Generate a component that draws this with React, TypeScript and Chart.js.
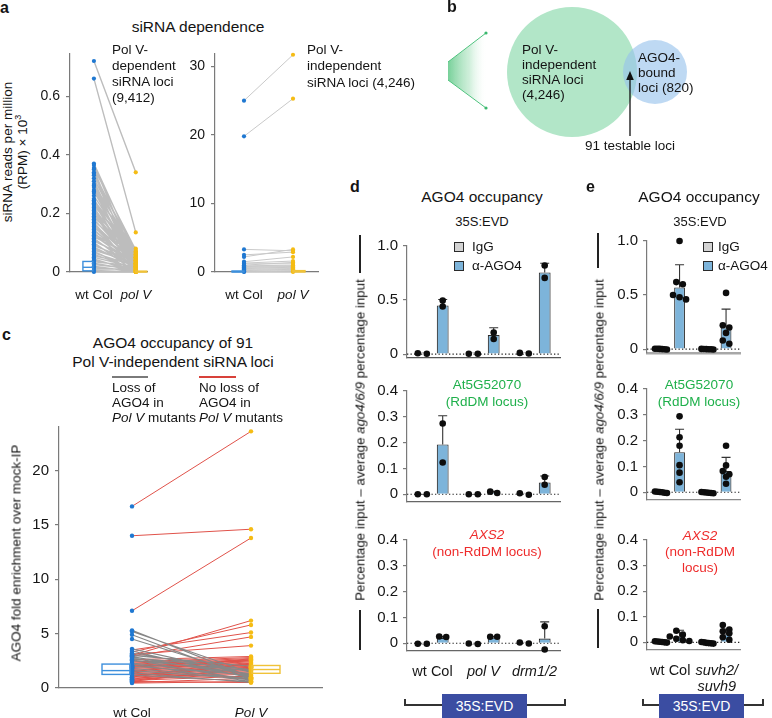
import React, { useEffect, useRef } from "react";
import { Chart, registerables } from "chart.js";

Chart.register(...registerables);

const FONT = '"Liberation Sans", Arial, Helvetica, sans-serif';

// ===================== DATA =====================
// Panel a (left): Pol V-dependent siRNA loci, siRNA RPM x10^3 (paired wt Col -> pol V)
const aGenotypes = ["wt Col", "pol V"];
const aDepWt = [0.72, 0.66, 0.37, 0.365, 0.355, 0.35, 0.34, 0.335, 0.33, 0.32, 0.31, 0.3, 0.295, 0.29, 0.28, 0.275, 0.27, 0.26, 0.25, 0.245, 0.24, 0.235, 0.23, 0.225, 0.22, 0.215, 0.21, 0.205, 0.2, 0.195, 0.19, 0.185, 0.18, 0.175, 0.17, 0.165, 0.16, 0.155, 0.15, 0.145, 0.14, 0.135, 0.13, 0.125, 0.12, 0.115, 0.11, 0.105, 0.1, 0.095, 0.09, 0.085, 0.08, 0.075, 0.07, 0.065, 0.06, 0.055, 0.05, 0.045, 0.04, 0.035, 0.03, 0.025, 0.02, 0.015, 0.01, 0.005, 0];
const aDepPolV = [0.34, 0.135, 0.06, 0.03, 0.075, 0.0, 0.05, 0.02, 0.07, 0.04, 0.01, 0.065, 0.035, 0.0, 0.055, 0.025, 0.08, 0.045, 0.015, 0.06, 0.03, 0.005, 0.05, 0.07, 0.02, 0.04, 0.0, 0.055, 0.035, 0.01, 0.045, 0.065, 0.025, 0.05, 0.0, 0.03, 0.04, 0.015, 0.06, 0.02, 0.035, 0.005, 0.045, 0.025, 0.05, 0.01, 0.03, 0.04, 0.0, 0.02, 0.035, 0.015, 0.025, 0.03, 0.005, 0.02, 0.01, 0.025, 0.015, 0.0, 0.01, 0.02, 0.005, 0.01, 0.0, 0.005, 0.01, 0.0, 0];
const aDepWtBox = [0.004, 0.016, 0.036]; // q1, median, q3
const aDepPolVBox = [0.0, 0.001, 0.003];
const aDepTicks = [0, 0.2, 0.4, 0.6];

// Panel a (right): Pol V-independent siRNA loci
const aIndWt = [25.0, 19.8, 3.3, 2.5, 2.2, 1.5, 1.3, 1.2, 1.0, 0.9, 0.8, 0.7, 0.6, 0.5, 0.4, 0.3, 0.2, 0.1, 0.05, 0];
const aIndPolV = [31.7, 25.3, 3.1, 2.9, 3.3, 2.2, 1.6, 1.2, 1.4, 1.0, 0.9, 0.8, 0.6, 0.7, 0.5, 0.3, 0.4, 0.2, 0.1, 0];
const aIndWtBox = [0.0, 0.05, 0.15];
const aIndPolVBox = [0.0, 0.08, 0.2];
const aIndTicks = [0, 10, 20, 30];

// Panel b: Venn
const vennLabels = ["Pol V-independent siRNA loci", "AGO4-bound loci"];
const vennCounts = [4246, 820];
const vennOverlap = 91;

// Panel c: AGO4 fold enrichment over mock-IP (91 Pol V-independent loci)
const cGenotypes = ["wt Col", "Pol V"];
const cNoLossWt = [16.7, 14.0, 7.1, 3.0, 3.3, 3.5, 2.9, 3.1, 2.4, 2.3, 2.2, 2.1, 2.0, 1.9, 1.8, 1.7, 1.6, 1.5, 1.4, 1.3, 1.2, 1.1, 1.0, 0.9, 0.8, 0.7, 0.5, 0.45, 1.0, 0.8, 1.5, 2.6, 0.6, 2.5, 1.9, 1.1, 0.7, 0.6, 1.3, 2.1];
const cNoLossPolV = [23.6, 14.6, 13.8, 6.2, 5.8, 5.1, 4.7, 3.9, 2.8, 2.7, 2.6, 2.5, 2.5, 2.4, 2.3, 2.2, 2.1, 2.0, 1.9, 1.8, 1.7, 1.6, 1.5, 1.4, 1.3, 1.1, 0.9, 0.6, 2.6, 2.3, 2.7, 2.9, 1.9, 2.0, 2.6, 2.2, 1.8, 0.5, 1.0, 1.9];
const cLossWt = [5.3, 5.2, 4.9, 4.5, 3.6, 3.4, 3.2, 2.9, 2.7, 2.6, 2.5, 2.3, 2.2, 2.0, 1.8, 1.6, 1.4, 1.2, 3.0, 2.8];
const cLossPolV = [1.0, 1.4, 0.8, 1.1, 1.2, 0.9, 1.5, 1.0, 1.3, 0.7, 1.6, 1.1, 0.6, 1.2, 0.9, 0.8, 0.5, 0.6, 2.0, 1.7];
const cWtBox = [1.25, 1.6, 2.2];
const cPolVBox = [1.35, 1.7, 2.07];
const cTicks = [0, 5, 10, 15, 20];

// Panel d: AGO4 occupancy (percentage input - average ago4/6/9)
const dGroups = ["wt Col", "pol V", "drm1/2"];
const dEvdIgG = [0.006, 0.003, 0.008];
const dEvdIgGReps = [[0.004, 0.008], [0.003, 0.003], [0.005, 0.011]];
const dEvdAgo = [0.45, 0.176, 0.756];
const dEvdAgoReps = [[0.495, 0.44], [0.2, 0.14], [0.82, 0.705]];
const dEvdAgoErr = [0.505, 0.244, 0.84];
const dRddmIgG = [0.0, 0.0, 0.001];
const dRddmIgGReps = [[0.0, 0.0], [0.0, 0.0], [-0.002, 0.004]];
const dRddmAgo = [0.193, 0.008, 0.046];
const dRddmAgoReps = [[0.274, 0.123], [0.005, 0.01], [0.067, 0.037]];
const dRddmAgoErr = [0.304, 0.011, 0.071];
const dAxsIgG = [-0.002, -0.002, 0.001];
const dAxsIgGReps = [[-0.002, -0.002], [-0.003, -0.001], [-0.001, 0.003]];
const dAxsAgo = [0.021, 0.022, 0.018];
const dAxsAgoReps = [[0.026, 0.024], [0.025, 0.025], [0.066, -0.024]];
const dAxsAgoErr = [0.026, 0.026, 0.083];

// Panel e
const eGroups = ["wt Col", ["suvh2/", "suvh9"]];
const eEvdIgG = [0.0, -0.002];
const eEvdIgGReps = [[0.004, -0.003, 0.002, 0.0, -0.002, 0.003], [0.0, -0.003, 0.002, -0.001, 0.001, -0.002]];
const eEvdAgo = [0.57, 0.2];
const eEvdAgoReps = [[1.0, 0.62, 0.6, 0.5, 0.48, 0.46], [0.52, 0.22, 0.2, 0.15, 0.08, 0.05]];
const eEvdAgoErr = [0.78, 0.37];
const eRddmIgG = [0.0, -0.002];
const eRddmIgGReps = [[0.003, -0.002, 0.001, 0.0, -0.003, 0.002], [-0.001, -0.003, 0.0, -0.002, 0.001, -0.004]];
const eRddmAgo = [0.155, 0.082];
const eRddmAgoReps = [[0.294, 0.213, 0.18, 0.105, 0.076, 0.039], [0.18, 0.104, 0.082, 0.07, 0.06, 0.033]];
const eRddmAgoErr = [0.244, 0.135];
const eAxsIgG = [0.001, -0.002];
const eAxsIgGReps = [[0.004, 0.002, 0.0, 0.003, -0.001, 0.001], [-0.002, -0.004, 0.0, -0.003, 0.001, -0.005]];
const eAxsAgo = [0.022, 0.032];
const eAxsAgoReps = [[0.045, 0.03, 0.023, 0.014, 0.008, 0.005], [0.068, 0.05, 0.043, 0.035, 0.02, 0.01]];
const eAxsAgoErr = [0.047, 0.052];

const evdTicks = [0, 0.5, 1.0];
const locusTicks = [0, 0.1, 0.2, 0.3, 0.4];

// ===================== STYLE =====================
const AXIS = "#7a7a7a";
const BLUE = "#1f78d1";
const YELLOW = "#f5bc14";
const BOX_BLUE = "#3d8fdc";
const BOX_YELLOW = "#f0c238";
const GRAY_LINE = "#bdbdbd";
const RED_LINE = "#e0524a";
const LOSS_GRAY = "#878787";
const BAR_BLUE = "#7db4da";
const BAR_GRAY = "#d3d3d3";
const GREEN_TXT = "#1fb04b";
const RED_TXT = "#ee2b2b";
const EVD_BLUE = "#3b4da2";

type Frame = { plotL: number; plotT: number; plotW: number; plotH: number; yw: number; xh: number; padT: number; padR: number };

function frameBox(f: Frame) {
  return { x: f.plotL - f.yw, y: f.plotT - f.padT, w: f.yw + f.plotW + f.padR, h: f.padT + f.plotH + f.xh };
}

function baseOptions(f: Frame) {
  return {
    responsive: false,
    animation: false,
    devicePixelRatio: 1,
    events: [],
    layout: { autoPadding: false, padding: { top: f.padT, right: f.padR, left: 0, bottom: 0 } },
    plugins: { legend: { display: false }, tooltip: { enabled: false } },
  };
}

function yAxis(f: Frame, min: number, max: number, ticks: number[], fmt: (v: number) => string, size: number, pad: number) {
  return {
    type: "linear",
    position: "left",
    min,
    max,
    afterFit: (s: any) => { s.width = f.yw; },
    afterBuildTicks: (s: any) => { s.ticks = ticks.map((v) => ({ value: v })); },
    grid: { display: true, drawOnChartArea: false, drawTicks: true, tickLength: 4, color: AXIS, tickColor: AXIS, lineWidth: 1.2 },
    border: { display: true, color: AXIS, width: 1.2 },
    ticks: { callback: (v: number) => fmt(v), font: { size, family: FONT }, color: "#151515", padding: pad },
  };
}

function pairedX(f: Frame, min: number, max: number, names: string[], size: number, pad: number) {
  return {
    type: "linear",
    position: "bottom",
    min,
    max,
    afterFit: (s: any) => { s.height = f.xh; },
    afterBuildTicks: (s: any) => { s.ticks = [{ value: 0 }, { value: 1 }]; },
    grid: { display: false },
    border: { display: true, color: AXIS, width: 1.2 },
    ticks: {
      callback: (v: number) => names[v] ?? "",
      font: (ctx: any) => ({ size, family: FONT, style: ctx.index === 1 ? "italic" : "normal" }),
      color: "#151515",
      padding: pad,
      maxRotation: 0,
      autoSkip: false,
    },
  };
}

function pairLines(wt: number[], pv: number[], color: string, width: number) {
  const pts: any[] = [];
  const n = Math.min(wt.length, pv.length);
  for (let i = 0; i < n; i++) {
    pts.push({ x: 0, y: wt[i] }, { x: 1, y: pv[i] }, { x: 0.5, y: null });
  }
  return { type: "scatter", data: pts, showLine: true, spanGaps: false, borderColor: color, borderWidth: width, pointRadius: 0, fill: false, clip: false, order: 5 };
}

function dots(vals: number[], at: number, color: string, r: number) {
  return { type: "scatter", data: vals.map((v) => ({ x: at, y: v })), pointRadius: r, pointHoverRadius: r, backgroundColor: color, borderWidth: 0, clip: false, order: 1 };
}

type BoxSpec = { at: number; stats: number[]; side: number; gap: number; w: number; color: string };
function boxPlugin(specs: BoxSpec[]) {
  return {
    id: "boxes",
    afterDatasetsDraw(chart: any) {
      const { ctx } = chart;
      const x = chart.scales.x, y = chart.scales.y;
      specs.forEach((s) => {
        const xc = x.getPixelForValue(s.at);
        const x0 = s.side < 0 ? xc - s.gap - s.w : xc + s.gap;
        const [q1, med, q3] = s.stats;
        const y1 = y.getPixelForValue(q1), ym = y.getPixelForValue(med), y3 = y.getPixelForValue(q3);
        ctx.save();
        ctx.strokeStyle = s.color;
        ctx.lineWidth = 1.4;
        ctx.strokeRect(x0, y3, s.w, Math.max(y1 - y3, 0.5));
        ctx.beginPath();
        ctx.moveTo(x0, ym);
        ctx.lineTo(x0 + s.w, ym);
        ctx.stroke();
        ctx.restore();
      });
    },
  };
}

// horizontal offsets (px) for replicate dots: dots within thr px of a cluster's first dot are spread side by side
function swarm(vals: number[], pxPerY: number, spacing: number, thr: number) {
  const idx = vals.map((_, i) => i).sort((a, b) => vals[b] - vals[a]);
  const offs = new Array(vals.length).fill(0);
  let cluster: number[] = [];
  const flush = () => {
    const m = cluster.length;
    cluster.forEach((id, k) => { offs[id] = (k - (m - 1) / 2) * spacing; });
    cluster = [];
  };
  idx.forEach((id) => {
    if (cluster.length && Math.abs(vals[cluster[0]] - vals[id]) * pxPerY > thr) flush();
    cluster.push(id);
  });
  flush();
  return offs;
}

type BarSpec = {
  f: Frame; groups: any[]; igg: number[]; ago: number[]; iggReps: number[][]; agoReps: number[][]; err: number[];
  min: number; max: number; ticks: number[]; showLabels: boolean; xBorderColor: string; xBorderWidth: number;
  iggSpacing: number; agoSpacing: number; labelSize: number;
};

function barConfig(p: BarSpec) {
  const { f } = p;
  const pxPerY = f.plotH / (p.max - p.min);

  const zeroLine = {
    id: "zeroLine",
    beforeDatasetsDraw(chart: any) {
      const { ctx, chartArea } = chart;
      const y0 = chart.scales.y.getPixelForValue(0);
      ctx.save();
      ctx.strokeStyle = "#222";
      ctx.lineWidth = 1.2;
      ctx.setLineDash([1.3, 2.2]);
      ctx.beginPath();
      ctx.moveTo(chartArea.left, y0);
      ctx.lineTo(chartArea.right, y0);
      ctx.stroke();
      ctx.restore();
    },
  };
  const overlay = {
    id: "overlay",
    afterDatasetsDraw(chart: any) {
      const { ctx } = chart;
      const y = chart.scales.y;
      ctx.save();
      const agoMeta = chart.getDatasetMeta(1);
      ctx.strokeStyle = "#333";
      ctx.lineWidth = 1.1;
      agoMeta.data.forEach((bar: any, i: number) => {
        const e = p.err[i];
        if (e == null) return;
        const yt = y.getPixelForValue(e);
        ctx.beginPath();
        ctx.moveTo(bar.x, bar.y);
        ctx.lineTo(bar.x, yt);
        ctx.moveTo(bar.x - 4.5, yt);
        ctx.lineTo(bar.x + 4.5, yt);
        ctx.stroke();
      });
      ctx.fillStyle = "#0d0d0d";
      const sets: [number[][], number, number][] = [
        [p.iggReps, 0, p.iggSpacing],
        [p.agoReps, 1, p.agoSpacing],
      ];
      sets.forEach(([reps, di, spacing]) => {
        const meta = chart.getDatasetMeta(di);
        reps.forEach((vals, gi) => {
          const bar = meta.data[gi];
          if (!bar) return;
          const offs = swarm(vals, pxPerY, spacing, 5.5);
          vals.forEach((v, k) => {
            ctx.beginPath();
            ctx.arc(bar.x + offs[k], y.getPixelForValue(v), 3.3, 0, Math.PI * 2);
            ctx.fill();
          });
        });
      });
      ctx.restore();
    },
  };

  const fmt = (v: number) => (v === 0 ? "0" : v.toFixed(1));
  return {
    type: "bar",
    data: {
      labels: p.groups,
      datasets: [
        { label: "IgG", data: p.igg, backgroundColor: BAR_GRAY, borderColor: "#2a2a2a", borderWidth: 1, barPercentage: 0.58, categoryPercentage: 0.8, minBarLength: 1.5 },
        { label: "α-AGO4", data: p.ago, backgroundColor: BAR_BLUE, borderColor: "#2a2a2a", borderWidth: 1.1, barPercentage: 0.58, categoryPercentage: 0.8 },
      ],
    },
    options: {
      ...baseOptions(f),
      scales: {
        x: {
          type: "category",
          position: "bottom",
          offset: true,
          afterFit: (s: any) => { s.height = f.xh; },
          grid: { display: false },
          border: { display: true, color: p.xBorderColor, width: p.xBorderWidth },
          ticks: {
            display: p.showLabels,
            font: (ctx: any) => ({ size: p.labelSize, family: FONT, style: ctx.index > 0 ? "italic" : "normal", lineHeight: 1.12 }),
            color: "#151515",
            padding: 5,
            maxRotation: 0,
            autoSkip: false,
          },
        },
        y: yAxis(f, p.min, p.max, p.ticks, fmt, 15, 5),
      },
    },
    plugins: [zeroLine, overlay],
  };
}

// ===================== CHART CONFIGS =====================
const fAL: Frame = { plotL: 70, plotT: 49, plotW: 78, plotH: 223, yw: 40, xh: 30, padT: 10, padR: 12 };
const fAR: Frame = { plotL: 215, plotT: 49, plotW: 103, plotH: 223, yw: 36, xh: 30, padT: 10, padR: 10 };
const fC: Frame = { plotL: 59, plotT: 422, plotW: 263, plotH: 266, yw: 40, xh: 30, padT: 10, padR: 10 };

function configAL() {
  return {
    type: "scatter",
    data: {
      datasets: [
        pairLines(aDepWt, aDepPolV, GRAY_LINE, 1.4),
        dots(aDepWt, 0, BLUE, 2.1),
        dots(aDepPolV, 1, YELLOW, 2.1),
      ],
    },
    options: {
      ...baseOptions(fAL),
      scales: {
        x: pairedX(fAL, -24 / 42, 1 + 12 / 42, aGenotypes, 13.5, 7),
        y: yAxis(fAL, 0, 0.746, aDepTicks, (v) => (v === 0 ? "0" : v.toFixed(1)), 14, 6),
      },
    },
    plugins: [boxPlugin([
      { at: 0, stats: aDepWtBox, side: -1, gap: 1, w: 10, color: BOX_BLUE },
      { at: 1, stats: aDepPolVBox, side: 1, gap: 0, w: 11, color: BOX_YELLOW },
    ])],
  };
}

function configAR() {
  return {
    type: "scatter",
    data: {
      datasets: [
        pairLines(aIndWt, aIndPolV, "#c9c9c9", 1),
        dots(aIndWt, 0, BLUE, 2.1),
        dots(aIndPolV, 1, YELLOW, 2.1),
      ],
    },
    options: {
      ...baseOptions(fAR),
      scales: {
        x: pairedX(fAR, -29 / 49, 1 + 25 / 49, aGenotypes, 13.5, 7),
        y: yAxis(fAR, 0, 31.9, aIndTicks, (v) => String(v), 14, 6),
      },
    },
    plugins: [boxPlugin([
      { at: 0, stats: aIndWtBox, side: -1, gap: 0, w: 12, color: BOX_BLUE },
      { at: 1, stats: aIndPolVBox, side: 1, gap: 0, w: 12, color: BOX_YELLOW },
    ])],
  };
}

function configC() {
  return {
    type: "scatter",
    data: {
      datasets: [
        pairLines(cLossWt, cLossPolV, LOSS_GRAY, 1.1),
        pairLines(cNoLossWt, cNoLossPolV, RED_LINE, 1),
        dots([...cNoLossWt, ...cLossWt], 0, BLUE, 2.2),
        dots([...cNoLossPolV, ...cLossPolV], 1, YELLOW, 2.2),
      ],
    },
    options: {
      ...baseOptions(fC),
      scales: {
        x: pairedX(fC, -73 / 119, 1 + 71 / 119, cGenotypes, 13.5, 9),
        y: yAxis(fC, 0, 24, cTicks, (v) => String(v), 15, 6),
      },
    },
    plugins: [boxPlugin([
      { at: 0, stats: cWtBox, side: -1, gap: 2, w: 28, color: BOX_BLUE },
      { at: 1, stats: cPolVBox, side: 1, gap: 1, w: 28, color: BOX_YELLOW },
    ])],
  };
}

// Venn (panel b)
const VENN_BOX = { x: 440, y: 0, w: 262, h: 160 };
const BIG_R = 65;
const SMALL_R = 32;
const BIG_CX = 132;
const VENN_CY = 72;
const OVERLAP_PX = 14;

function configVenn() {
  const smallCx = BIG_CX + BIG_R + SMALL_R - OVERLAP_PX;
  const funnel = {
    id: "funnel",
    beforeDatasetsDraw(chart: any) {
      const { ctx } = chart;
      const xl = 8, xr = 47;
      ctx.save();
      const g = ctx.createLinearGradient(xl, 0, xr, 0);
      g.addColorStop(0, "rgba(95,200,135,0.85)");
      g.addColorStop(0.55, "rgba(150,220,175,0.45)");
      g.addColorStop(1, "rgba(255,255,255,0)");
      ctx.fillStyle = g;
      ctx.beginPath();
      ctx.moveTo(xl, 62);
      ctx.lineTo(xr, 33);
      ctx.lineTo(xr, 108);
      ctx.lineTo(xl, 80);
      ctx.closePath();
      ctx.fill();
      ctx.strokeStyle = "#4cc27c";
      ctx.lineWidth = 1;
      ctx.beginPath();
      ctx.moveTo(xl, 62); ctx.lineTo(xr - 1, 33);
      ctx.moveTo(xl, 80); ctx.lineTo(xr - 1, 108);
      ctx.stroke();
      ctx.fillStyle = "#3bb86e";
      [[xr - 1, 33], [xr - 1, 108]].forEach(([px, py]) => { ctx.beginPath(); ctx.arc(px, py, 1.6, 0, Math.PI * 2); ctx.fill(); });
      ctx.restore();
    },
    afterDatasetsDraw(chart: any) {
      const { ctx } = chart;
      const ax = 190;
      ctx.save();
      ctx.strokeStyle = "#111";
      ctx.fillStyle = "#111";
      ctx.lineWidth = 1.3;
      ctx.beginPath();
      ctx.moveTo(ax, 136);
      ctx.lineTo(ax, 78);
      ctx.stroke();
      ctx.beginPath();
      ctx.moveTo(ax, 71);
      ctx.lineTo(ax - 3.8, 80);
      ctx.lineTo(ax + 3.8, 80);
      ctx.closePath();
      ctx.fill();
      ctx.restore();
    },
  };
  // dataset 0 is drawn last (on top): AGO4-bound set overlays the siRNA set
  return {
    type: "bubble",
    data: {
      labels: vennLabels,
      datasets: [
        { label: vennLabels[1], data: [{ x: smallCx, y: VENN_CY, r: SMALL_R, n: vennCounts[1] }], backgroundColor: "rgba(150,193,235,0.62)", borderWidth: 0, clip: false },
        { label: vennLabels[0], data: [{ x: BIG_CX, y: VENN_CY, r: BIG_R, n: vennCounts[0] }], backgroundColor: "rgb(178,230,200)", borderWidth: 0, clip: false },
      ],
    },
    options: {
      responsive: false,
      animation: false,
      devicePixelRatio: 1,
      events: [],
      layout: { autoPadding: false, padding: 0 },
      plugins: { legend: { display: false }, tooltip: { enabled: false } },
      scales: {
        x: { type: "linear", display: false, min: 0, max: VENN_BOX.w },
        y: { type: "linear", display: false, min: 0, max: VENN_BOX.h, reverse: true },
      },
    },
    plugins: [funnel],
  };
}

// Bar frames
const fD1: Frame = { plotL: 407, plotT: 242, plotW: 153, plotH: 116, yw: 44, xh: 14, padT: 10, padR: 10 };
const fD2: Frame = { plotL: 407, plotT: 387, plotW: 153, plotH: 115, yw: 44, xh: 14, padT: 10, padR: 10 };
const fD3: Frame = { plotL: 407, plotT: 536, plotW: 153, plotH: 115, yw: 44, xh: 28, padT: 10, padR: 12 };
const fE1: Frame = { plotL: 647, plotT: 237, plotW: 93, plotH: 116, yw: 44, xh: 14, padT: 10, padR: 10 };
const fE2: Frame = { plotL: 647, plotT: 385, plotW: 93, plotH: 115, yw: 44, xh: 14, padT: 10, padR: 10 };
const fE3: Frame = { plotL: 647, plotT: 536, plotW: 93, plotH: 114, yw: 44, xh: 46, padT: 10, padR: 12 };

const common = { iggSpacing: 9, agoSpacing: 7, labelSize: 14.5 };
const configD1 = () => barConfig({ f: fD1, groups: dGroups, igg: dEvdIgG, ago: dEvdAgo, iggReps: dEvdIgGReps, agoReps: dEvdAgoReps, err: dEvdAgoErr, min: -0.036, max: 1.0, ticks: evdTicks, showLabels: false, xBorderColor: "#555", xBorderWidth: 1.3, ...common });
const configD2 = () => barConfig({ f: fD2, groups: dGroups, igg: dRddmIgG, ago: dRddmAgo, iggReps: dRddmIgGReps, agoReps: dRddmAgoReps, err: dRddmAgoErr, min: -0.03, max: 0.4, ticks: locusTicks, showLabels: false, xBorderColor: "#666", xBorderWidth: 1.3, ...common });
const configD3 = () => barConfig({ f: fD3, groups: dGroups, igg: dAxsIgG, ago: dAxsAgo, iggReps: dAxsIgGReps, agoReps: dAxsAgoReps, err: dAxsAgoErr, min: -0.03, max: 0.4, ticks: locusTicks, showLabels: true, xBorderColor: "#666", xBorderWidth: 1.3, ...common });
const commonE = { iggSpacing: 2.4, agoSpacing: 6.5, labelSize: 14.5 };
const configE1 = () => barConfig({ f: fE1, groups: eGroups, igg: eEvdIgG, ago: eEvdAgo, iggReps: eEvdIgGReps, agoReps: eEvdAgoReps, err: eEvdAgoErr, min: -0.036, max: 1.0, ticks: evdTicks, showLabels: false, xBorderColor: "#a8a8a8", xBorderWidth: 2.5, ...commonE });
const configE2 = () => barConfig({ f: fE2, groups: eGroups, igg: eRddmIgG, ago: eRddmAgo, iggReps: eRddmIgGReps, agoReps: eRddmAgoReps, err: eRddmAgoErr, min: -0.03, max: 0.4, ticks: locusTicks, showLabels: false, xBorderColor: "#8a8a8a", xBorderWidth: 1.3, ...commonE });
const configE3 = () => barConfig({ f: fE3, groups: eGroups, igg: eAxsIgG, ago: eAxsAgo, iggReps: eAxsIgGReps, agoReps: eAxsAgoReps, err: eAxsAgoErr, min: -0.03, max: 0.4, ticks: locusTicks, showLabels: true, xBorderColor: "#8a8a8a", xBorderWidth: 1.3, ...commonE });

// ===================== COMPONENTS =====================
function ChartCanvas({ box, make }: { box: { x: number; y: number; w: number; h: number }; make: () => any }) {
  const ref = useRef<HTMLCanvasElement | null>(null);
  useEffect(() => {
    if (!ref.current) return;
    const chart = new Chart(ref.current, make());
    return () => chart.destroy();
  }, []);
  return (
    <canvas
      ref={ref}
      width={box.w}
      height={box.h}
      style={{ position: "absolute", left: box.x, top: box.y, width: box.w, height: box.h }}
    />
  );
}

type TProps = { x: number; y: number; size?: number; lh?: number; align?: "left" | "center"; color?: string; bold?: boolean; italic?: boolean; children: any };
function T({ x, y, size = 13.5, lh = 16, align = "left", color = "#141414", bold, italic, children }: TProps) {
  return (
    <div
      style={{
        position: "absolute",
        left: x,
        top: y,
        fontSize: size,
        lineHeight: lh + "px",
        color,
        fontWeight: bold ? 700 : 400,
        fontStyle: italic ? "italic" : "normal",
        whiteSpace: "nowrap",
        textAlign: align,
        transform: align === "center" ? "translateX(-50%)" : undefined,
      }}
    >
      {children}
    </div>
  );
}

function RotT({ cx, cy, size = 13.5, lh = 15, children }: { cx: number; cy: number; size?: number; lh?: number; children: any }) {
  return (
    <div
      style={{
        position: "absolute",
        left: cx,
        top: cy,
        fontSize: size,
        lineHeight: lh + "px",
        color: "#141414",
        whiteSpace: "nowrap",
        textAlign: "center",
        transform: "translate(-50%,-50%) rotate(-90deg)",
      }}
    >
      {children}
    </div>
  );
}

const VLine = ({ x, y1, y2, c = "#222", w = 1.3 }: any) => (
  <div style={{ position: "absolute", left: x - w / 2, top: y1, width: w, height: y2 - y1, background: c }} />
);
const HLine = ({ y, x1, x2, c = "#333", w = 1.3 }: any) => (
  <div style={{ position: "absolute", left: x1, top: y - w / 2, width: x2 - x1, height: w, background: c }} />
);

function LegendSwatch({ x, y, color }: { x: number; y: number; color: string }) {
  return <div style={{ position: "absolute", left: x, top: y, width: 10, height: 10, background: color, border: "1px solid #2a2a2a", boxSizing: "border-box" }} />;
}

function Bracket({ x1, x2, bx1, bx2 }: { x1: number; x2: number; bx1: number; bx2: number }) {
  return (
    <>
      <HLine y={705} x1={x1} x2={x2} />
      <VLine x={x1} y1={699} y2={705.5} c="#333" />
      <VLine x={x2} y1={699} y2={705.5} c="#333" />
      <div
        style={{
          position: "absolute",
          left: bx1,
          top: 694,
          width: bx2 - bx1,
          height: 26,
          background: EVD_BLUE,
          color: "#fff",
          fontSize: 14,
          lineHeight: "24px",
          textAlign: "center",
        }}
      >
        35S:EVD
      </div>
    </>
  );
}

export default function App() {
  return (
    <div
      style={{
        position: "absolute",
        left: 0,
        top: 0,
        width: 772,
        height: 718,
        overflow: "hidden",
        background: "#ffffff",
        fontFamily: FONT,
        color: "#141414",
      }}
    >
      <ChartCanvas box={frameBox(fAL)} make={configAL} />
      <ChartCanvas box={frameBox(fAR)} make={configAR} />
      <ChartCanvas box={VENN_BOX} make={configVenn} />
      <ChartCanvas box={frameBox(fC)} make={configC} />
      <ChartCanvas box={frameBox(fD1)} make={configD1} />
      <ChartCanvas box={frameBox(fD2)} make={configD2} />
      <ChartCanvas box={frameBox(fD3)} make={configD3} />
      <ChartCanvas box={frameBox(fE1)} make={configE1} />
      <ChartCanvas box={frameBox(fE2)} make={configE2} />
      <ChartCanvas box={frameBox(fE3)} make={configE3} />

      {/* Panel a */}
      <T x={0} y={-1} size={16} lh={18} bold>a</T>
      <T x={198} y={18} size={15.5} lh={18} align="center">siRNA dependence</T>
      <T x={112} y={42} lh={16}>Pol V-<br />dependent<br />siRNA loci<br />(9,412)</T>
      <T x={307} y={42} lh={16.3}>Pol V-<br />independent<br />siRNA loci (4,246)</T>
      <RotT cx={15} cy={152} size={13.5} lh={14.5}>
        siRNA reads per million<br />(RPM) × 10<sup style={{ fontSize: 9, lineHeight: 0 }}>3</sup>
      </RotT>

      {/* Panel b */}
      <T x={447} y={-2} size={16} lh={18} bold>b</T>
      <T x={522} y={41.5} lh={15.3}>Pol V-<br />independent<br />siRNA loci<br />({vennCounts[0].toLocaleString("en-US")})</T>
      <T x={638} y={49.5} lh={15}>AGO4-<br />bound<br />loci ({vennCounts[1]})</T>
      <T x={630} y={138} lh={16} align="center">{vennOverlap} testable loci</T>

      {/* Panel c */}
      <T x={2} y={326} size={16} lh={18} bold>c</T>
      <T x={173} y={332.5} size={15.5} lh={19} align="center">AGO4 occupancy of 91<br />Pol V-independent siRNA loci</T>
      <HLine y={377} x1={112} x2={148} c="#7a7a7a" w={2.2} />
      <HLine y={377} x1={199} x2={236} c="#d8413a" w={2.2} />
      <T x={112} y={379.5} lh={15}>Loss of<br />AGO4 in<br /><i>Pol V</i> mutants</T>
      <T x={199} y={379.5} lh={15}>No loss of<br />AGO4 in<br /><i>Pol V</i> mutants</T>
      <RotT cx={16} cy={553} size={13.5}>AGO4 fold enrichment over mock-IP</RotT>

      {/* Panel d */}
      <T x={350} y={178} size={16} lh={18} bold>d</T>
      <T x={482} y={188} size={15.5} lh={18} align="center">AGO4 occupancy</T>
      <T x={482} y={214} size={13} lh={16} align="center">35S:EVD</T>
      <LegendSwatch x={454} y={242} color={BAR_GRAY} />
      <T x={472} y={239} lh={16}>IgG</T>
      <LegendSwatch x={454} y={261} color={BAR_BLUE} />
      <T x={472} y={258} lh={16}>α-AGO4</T>
      <T x={487} y={375.5} lh={17} align="center" color={GREEN_TXT}>At5G52070<br />(RdDM locus)</T>
      <T x={487} y={525.5} lh={17.5} align="center" color={RED_TXT}><i>AXS2</i><br />(non-RdDM locus)</T>
      <VLine x={360} y1={235} y2={273} c="#222" w={1.2} />
      <VLine x={360} y1={610} y2={650} c="#222" w={1.2} />
      <RotT cx={360} cy={440} size={13.3}>Percentage input – average <i>ago4/6/9</i> percentage input</RotT>
      <Bracket x1={405} x2={565} bx1={442} bx2={527} />

      {/* Panel e */}
      <T x={586} y={178} size={16} lh={18} bold>e</T>
      <T x={699} y={188} size={15.5} lh={18} align="center">AGO4 occupancy</T>
      <T x={700} y={214} size={13} lh={16} align="center">35S:EVD</T>
      <LegendSwatch x={703} y={242} color={BAR_GRAY} />
      <T x={718} y={239} lh={16}>IgG</T>
      <LegendSwatch x={703} y={261} color={BAR_BLUE} />
      <T x={718} y={258} lh={16}>α-AGO4</T>
      <T x={699} y={375.5} lh={17} align="center" color={GREEN_TXT}>At5G52070<br />(RdDM locus)</T>
      <T x={700} y={527.5} lh={16.2} align="center" color={RED_TXT}><i>AXS2</i><br />(non-RdDM<br />locus)</T>
      <VLine x={598} y1={233} y2={268} c="#222" w={1.2} />
      <VLine x={598} y1={609} y2={648} c="#222" w={1.2} />
      <RotT cx={599} cy={440} size={13.3}>Percentage input – average <i>ago4/6/9</i> percentage input</RotT>
      <Bracket x1={643} x2={763} bx1={659} bx2={744} />
    </div>
  );
}
